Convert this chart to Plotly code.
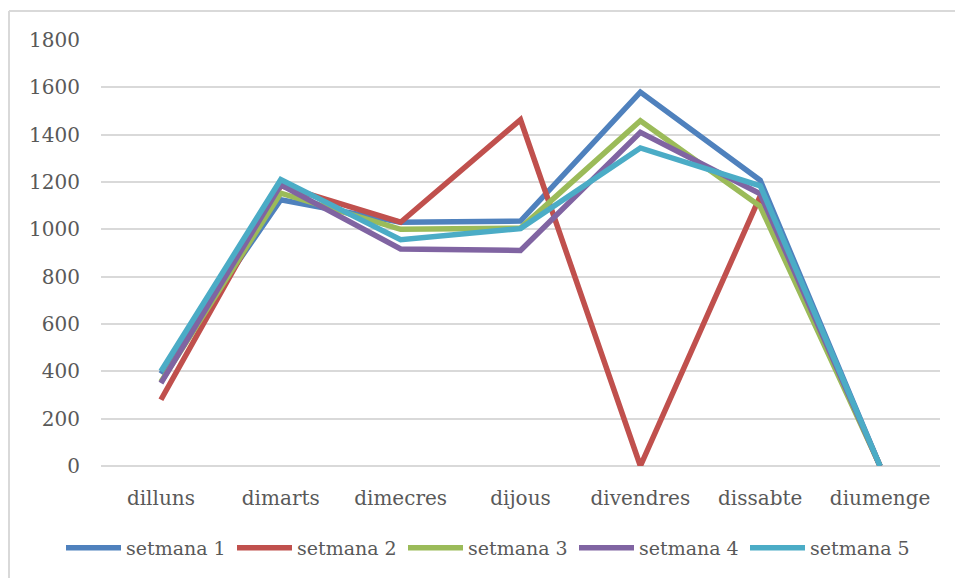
import plotly.graph_objects as go

days = ["dilluns", "dimarts", "dimecres", "dijous", "divendres", "dissabte", "diumenge"]
series_names = ["setmana 1", "setmana 2", "setmana 3", "setmana 4", "setmana 5"]
setmana_1 = [390, 1125, 1030, 1035, 1580, 1207, 0]
setmana_2 = [280, 1185, 1030, 1463, 0, 1140, 0]
setmana_3 = [355, 1153, 1000, 1005, 1459, 1097, 0]
setmana_4 = [350, 1188, 917, 911, 1410, 1150, 0]
setmana_5 = [400, 1210, 956, 1003, 1344, 1184, 0]
colors = ["#4F81BD", "#C0504D", "#9BBB59", "#8064A2", "#4BACC6"]
y_ticks = [0, 200, 400, 600, 800, 1000, 1200, 1400, 1600, 1800]

all_series = [setmana_1, setmana_2, setmana_3, setmana_4, setmana_5]

fig = go.Figure()
for name, vals, col in zip(series_names, all_series, colors):
    fig.add_trace(go.Scatter(
        x=days, y=vals, name=name, mode="lines",
        line=dict(color=col, width=5.5),
    ))

W, H = 955, 578
ml, mr, mt, mb = 101, 15, 40, 112
pw, ph = W - ml - mr, H - mt - mb

def px_to_paper_x(px):
    return (px - ml) / pw

def px_to_paper_y(py):
    return (H - mb - py) / ph

font_family = "DejaVu Serif"
txt_col = "#595959"

fig.update_layout(
    width=W, height=H,
    margin=dict(l=ml, r=mr, t=mt, b=mb, autoexpand=False),
    paper_bgcolor="white", plot_bgcolor="white",
    font=dict(family=font_family, size=20, color=txt_col),
    showlegend=True,
    legend=dict(
        orientation="h", x=px_to_paper_x(61), xanchor="left",
        y=px_to_paper_y(529), yanchor="top",
        font=dict(family=font_family, size=19, color=txt_col),
        entrywidth=101, entrywidthmode="pixels",
        itemwidth=55, traceorder="normal",
        bgcolor="rgba(0,0,0,0)",
    ),
    xaxis=dict(
        type="category", range=[-0.5, 6.5],
        showgrid=False, showline=False, zeroline=False,
        ticks="", ticklabelstandoff=18,
        tickfont=dict(family=font_family, size=20, color=txt_col),
    ),
    yaxis=dict(
        range=[0, 1800], tickvals=y_ticks,
        showgrid=True, gridcolor="#D9D9D9", gridwidth=1.5,
        zeroline=True, zerolinecolor="#D9D9D9", zerolinewidth=1.5,
        showline=False, ticks="", ticklabelstandoff=20,
        tickfont=dict(family=font_family, size=20, color=txt_col),
    ),
    shapes=[
        dict(type="line", xref="paper", yref="paper",
             x0=px_to_paper_x(9), x1=px_to_paper_x(9),
             y0=px_to_paper_y(11), y1=px_to_paper_y(600),
             line=dict(color="#D9D9D9", width=2), layer="below"),
        dict(type="line", xref="paper", yref="paper",
             x0=px_to_paper_x(9), x1=px_to_paper_x(970),
             y0=px_to_paper_y(11), y1=px_to_paper_y(11),
             line=dict(color="#D9D9D9", width=2), layer="below"),
    ],
)

fig.write_html(
    "out.html",
    config={"displayModeBar": False},
    post_script="document.body.style.margin='0';document.body.style.overflow='hidden';",
)
